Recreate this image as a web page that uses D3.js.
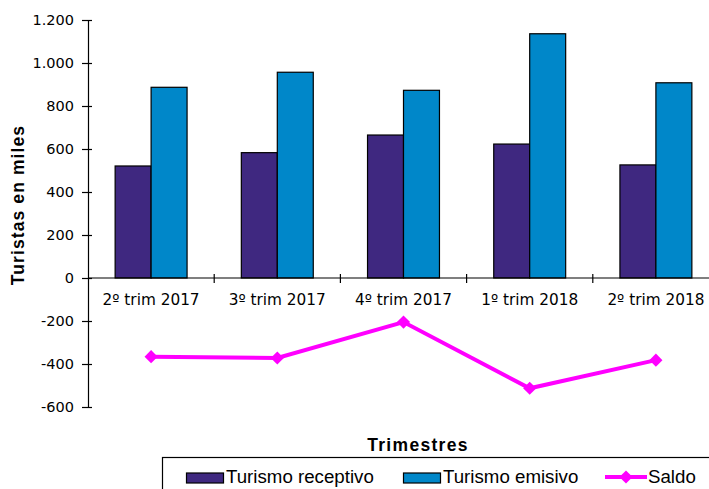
<!DOCTYPE html>
<html lang="es">

<head>
    <meta charset="utf-8" />
    <script src="https://d3js.org/d3.v7.min.js"></script>
    <style>
        body { margin: 0; background: #fff; }
        svg { display: block; }
    </style>
</head>

<body>
    <script>

        const w = 709;
        const h = 489;

        // data (miles de turistas)
        const trimestres = ["2º trim 2017", "3º trim 2017", "4º trim 2017", "1º trim 2018", "2º trim 2018"];
        const receptivo = [521, 583, 665, 623, 526];
        const emisivo = [887, 957, 873, 1136, 908];
        const saldo = [-366, -372, -205, -513, -382];
        const yTicks = [-600, -400, -200, 0, 200, 400, 600, 800, 1000, 1200];

        const series = ["Turismo receptivo", "Turismo emisivo"];
        const colors = ["#3f2880", "#0087c9"];

        const rows = trimestres.map((t, i) => ({ t: t, vals: [receptivo[i], emisivo[i]], saldo: saldo[i] }));

        const padL = 88, padR = 719, padT = 20, padB = 407;

        const es = d3.formatLocale({ decimal: ",", thousands: ".", grouping: [3], currency: ["", ""], minus: "-" });
        const fmt = es.format(",d");

        const xScale = d3.scaleBand()
            .domain(trimestres)
            .range([padL, padR])
            .paddingInner(0.43)
            .paddingOuter(0.215);

        const xSub = d3.scaleBand()
            .domain(series)
            .range([0, xScale.bandwidth()]);

        const yScale = d3.scaleLinear()
            .domain([-600, 1200])
            .range([padB, padT]);

        const svg = d3.select("body")
            .append("svg")
            .attr("width", w)
            .attr("height", h);

        // bars
        const groups = svg.selectAll("g.grp")
            .data(rows)
            .enter()
            .append("g")
            .attr("class", "grp")
            .attr("transform", d => "translate(" + xScale(d.t) + ",0)");

        groups.selectAll("rect")
            .data(d => d.vals.map((v, k) => ({ k: k, v: v })))
            .enter()
            .append("rect")
            .attr("x", d => xSub(series[d.k]))
            .attr("width", xSub.bandwidth())
            .attr("y", d => yScale(d.v))
            .attr("height", d => yScale(0) - yScale(d.v))
            .style("fill", d => colors[d.k])
            .style("stroke", "#000")
            .style("stroke-width", 1.2);

        // y axis
        const yAxis = d3.axisLeft(yScale)
            .tickValues(yTicks)
            .tickFormat(fmt)
            .tickSizeInner(6)
            .tickSizeOuter(0)
            .tickPadding(8);

        const gy = svg.append("g")
            .attr("transform", "translate(" + padL + ",0)")
            .call(yAxis);
        gy.select(".domain").attr("stroke", "#000").attr("stroke-width", 1.2);
        gy.selectAll(".tick line").attr("x2", 4).attr("x1", -6).attr("stroke-width", 1.2);
        gy.selectAll(".tick text")
            .attr("x", -14)
            .style("font-family", "'DejaVu Sans', sans-serif")
            .style("font-size", "14.5px")
            .attr("fill", "#000");

        // x axis at zero
        const step = xScale.step();
        const zeroY = yScale(0);
        svg.append("line")
            .attr("x1", padL).attr("x2", padR)
            .attr("y1", zeroY).attr("y2", zeroY)
            .attr("stroke", "#000").attr("stroke-width", 1.2);

        svg.selectAll("line.xtick")
            .data(d3.range(1, trimestres.length + 1))
            .enter()
            .append("line")
            .attr("class", "xtick")
            .attr("x1", i => padL + i * step).attr("x2", i => padL + i * step)
            .attr("y1", zeroY - 4).attr("y2", zeroY + 5)
            .attr("stroke", "#000").attr("stroke-width", 1.2);

        svg.selectAll("text.xlab")
            .data(trimestres)
            .enter()
            .append("text")
            .attr("class", "xlab")
            .attr("x", d => xScale(d) + xScale.bandwidth() / 2)
            .attr("y", zeroY + 27)
            .attr("text-anchor", "middle")
            .style("font-family", "'DejaVu Sans', sans-serif")
            .style("font-size", "15.3px")
            .text(d => d);

        // saldo line
        const line = d3.line()
            .x(d => xScale(d.t) + xScale.bandwidth() / 2)
            .y(d => yScale(d.saldo));

        svg.append("path")
            .datum(rows)
            .attr("d", line)
            .attr("fill", "none")
            .attr("stroke", "#ff00ff")
            .attr("stroke-width", 4);

        const diamond = d3.symbol().type(d3.symbolDiamond2).size(110);

        svg.selectAll("path.mk")
            .data(rows)
            .enter()
            .append("path")
            .attr("class", "mk")
            .attr("d", diamond)
            .attr("transform", d => "translate(" + (xScale(d.t) + xScale.bandwidth() / 2) + "," + yScale(d.saldo) + ")")
            .attr("fill", "#ff00ff");

        // titles
        svg.append("text")
            .attr("transform", "translate(24,205) rotate(-90)")
            .attr("text-anchor", "middle")
            .style("font-family", "'Liberation Sans', Arial, sans-serif")
            .style("font-weight", "bold")
            .style("font-size", "17.5px")
            .style("letter-spacing", "1.1px")
            .text("Turistas  en miles");

        svg.append("text")
            .attr("x", 418)
            .attr("y", 451)
            .attr("text-anchor", "middle")
            .style("font-family", "'Liberation Sans', Arial, sans-serif")
            .style("font-weight", "bold")
            .style("font-size", "17.5px")
            .style("letter-spacing", "1.3px")
            .text("Trimestres");

        // legend
        svg.append("rect")
            .attr("x", 162.5).attr("y", 457.5)
            .attr("width", 600).attr("height", 80)
            .attr("fill", "#fff")
            .attr("stroke", "#000").attr("stroke-width", 1.2);

        const legendX = [186, 403];
        series.forEach((s, k) => {
            svg.append("rect")
                .attr("x", legendX[k] + 0.5).attr("y", 473)
                .attr("width", 37).attr("height", 10)
                .attr("fill", colors[k])
                .attr("stroke", "#000").attr("stroke-width", 1.2);
            svg.append("text")
                .attr("x", legendX[k] + 40).attr("y", 483)
                .style("font-family", "'Liberation Sans', Arial, sans-serif")
                .style("font-size", "18.7px")
                .text(s);
        });

        svg.append("line")
            .attr("x1", 605).attr("x2", 647)
            .attr("y1", 477).attr("y2", 477)
            .attr("stroke", "#ff00ff").attr("stroke-width", 4);
        svg.append("path")
            .attr("d", diamond)
            .attr("transform", "translate(626,477)")
            .attr("fill", "#ff00ff");
        svg.append("text")
            .attr("x", 648).attr("y", 483)
            .style("font-family", "'Liberation Sans', Arial, sans-serif")
            .style("font-size", "18.7px")
            .text("Saldo");

    </script>
</body>

</html>
